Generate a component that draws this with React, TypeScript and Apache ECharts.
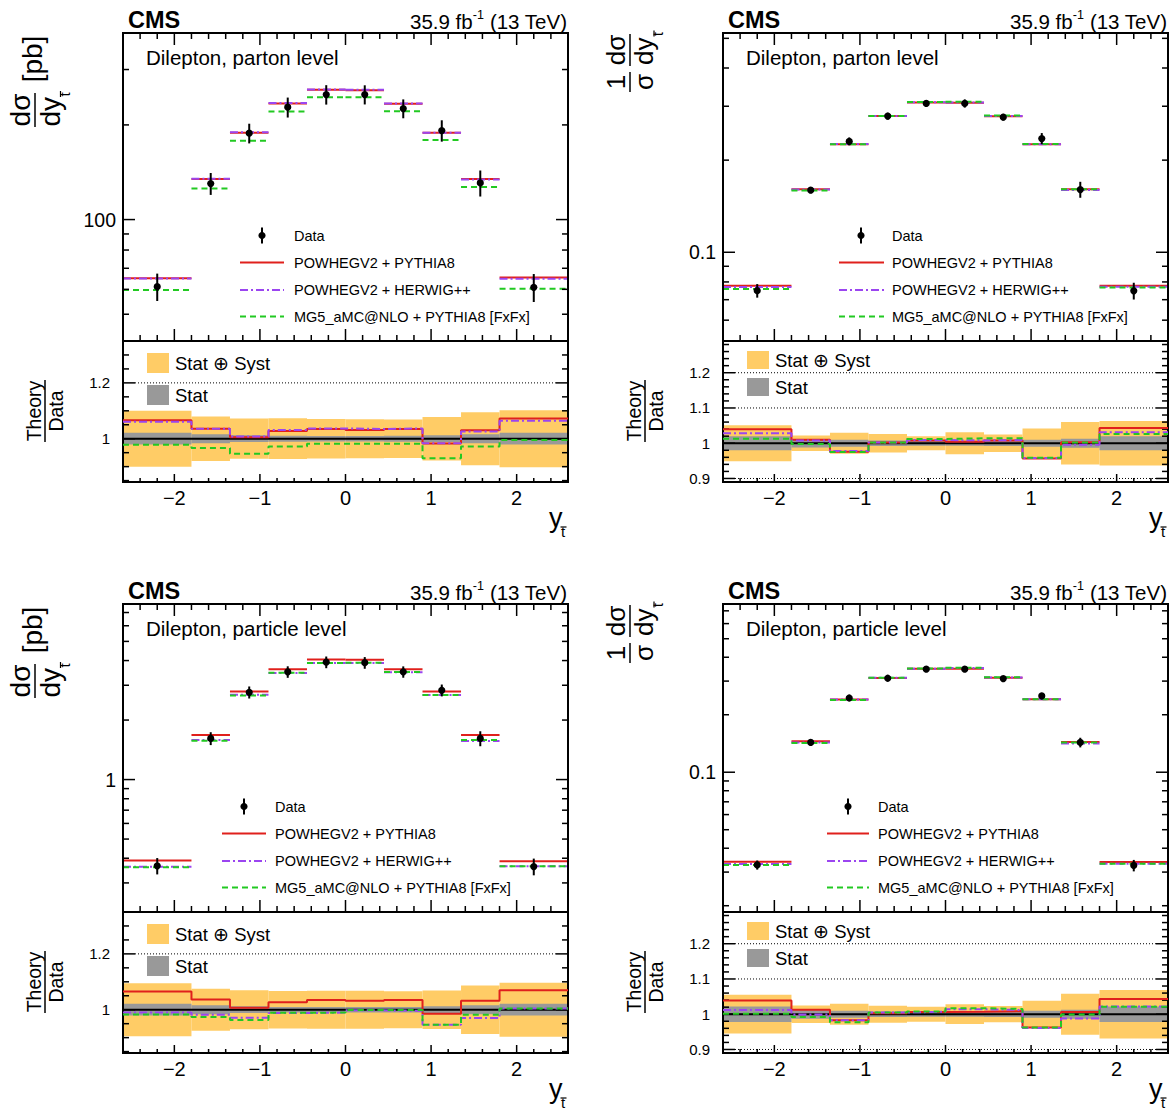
import React, { useEffect, useRef } from "react";
import * as echarts from "echarts";

const FONT = "'Liberation Sans', Arial, Helvetica, sans-serif";

// ---------- shared binning ----------
const binEdges = [-2.6, -1.8, -1.35, -0.9, -0.45, 0, 0.45, 0.9, 1.35, 1.8, 2.6];
const xMajorTicks = [-2, -1, 0, 1, 2];
const xMinorStep = 0.2;

const modelNames = ["POWHEGV2 + PYTHIA8", "POWHEGV2 + HERWIG++", "MG5_aMC@NLO + PYTHIA8 [FxFx]"];
const levelTexts = ["Dilepton, parton level", "Dilepton, particle level"];

// ---------- top-left: absolute, parton level ----------
const tlData = [61.2, 130.2, 188.2, 227.7, 249.8, 249.8, 225.5, 191.9, 130.8, 60.9];
const tlPowPy = [65.1, 134.7, 189.0, 233.9, 258.5, 258.0, 233.5, 189.0, 134.7, 65.4];
const tlPowHw = [64.9, 134.9, 189.7, 234.7, 259.0, 258.5, 233.8, 188.8, 134.2, 64.8];
const tlMg5 = [59.7, 125.5, 178.0, 220.6, 245.0, 245.0, 221.0, 179.0, 127.0, 60.3];
const tlRatioPowPy = [1.066, 1.036, 1.005, 1.028, 1.035, 1.031, 1.035, 0.983, 1.030, 1.072];
const tlRatioPowHw = [1.061, 1.036, 1.008, 1.031, 1.037, 1.035, 1.037, 0.984, 1.026, 1.064];
const tlRatioMg5 = [0.978, 0.967, 0.946, 0.972, 0.982, 0.982, 0.982, 0.930, 0.972, 0.995];
const tlTotUnc = [0.100, 0.080, 0.072, 0.073, 0.071, 0.070, 0.069, 0.078, 0.095, 0.102];
const tlStatUnc = [0.021, 0.016, 0.012, 0.011, 0.010, 0.010, 0.011, 0.012, 0.016, 0.021];

// ---------- top-right: normalized, parton level ----------
const trData = [0.0749, 0.1595, 0.2303, 0.2786, 0.3064, 0.3064, 0.2764, 0.2353, 0.1603, 0.0748];
const trPowPy = [0.0778, 0.1607, 0.2256, 0.2790, 0.3085, 0.3078, 0.2785, 0.2253, 0.1608, 0.0778];
const trPowHw = [0.0770, 0.1604, 0.2260, 0.2790, 0.3090, 0.3085, 0.2790, 0.2255, 0.1597, 0.0771];
const trMg5 = [0.0759, 0.1592, 0.2254, 0.2790, 0.3100, 0.3105, 0.2800, 0.2257, 0.1606, 0.0767];
const trRatioPowPy = [1.040, 1.010, 0.976, 1.002, 1.008, 1.004, 1.008, 0.957, 1.003, 1.043];
const trRatioPowHw = [1.028, 1.008, 0.978, 1.002, 1.009, 1.008, 1.009, 0.958, 0.996, 1.031];
const trRatioMg5 = [1.013, 0.998, 0.975, 1.002, 1.012, 1.014, 1.014, 0.959, 1.002, 1.026];
const trTotUnc = [0.051, 0.022, 0.030, 0.026, 0.020, 0.031, 0.025, 0.042, 0.060, 0.063];
const trStatUnc = [0.020, 0.012, 0.010, 0.008, 0.007, 0.007, 0.008, 0.010, 0.013, 0.020];

// ---------- bottom-left: absolute, particle level ----------
const blData = [0.366, 1.615, 2.764, 3.506, 3.926, 3.900, 3.506, 2.830, 1.615, 0.363];
const blPowPy = [0.3895, 1.679, 2.79, 3.618, 4.05, 4.04, 3.618, 2.79, 1.679, 0.386];
const blPowHw = [0.362, 1.586, 2.684, 3.464, 3.886, 3.892, 3.492, 2.677, 1.567, 0.364];
const blMg5 = [0.360, 1.573, 2.662, 3.468, 3.887, 3.896, 3.502, 2.677, 1.586, 0.364];
const blRatioPowPy = [1.065, 1.037, 1.007, 1.027, 1.035, 1.032, 1.035, 0.986, 1.032, 1.070];
const blRatioPowHw = [0.990, 0.982, 0.971, 0.988, 0.990, 0.998, 0.996, 0.946, 0.970, 1.004];
const blRatioMg5 = [0.983, 0.974, 0.963, 0.989, 0.990, 0.999, 0.999, 0.946, 0.982, 1.004];
const blTotUnc = [0.095, 0.075, 0.070, 0.067, 0.068, 0.068, 0.066, 0.069, 0.087, 0.097];
const blStatUnc = [0.021, 0.016, 0.012, 0.010, 0.010, 0.010, 0.010, 0.012, 0.016, 0.021];

// ---------- bottom-right: normalized, particle level ----------
const brData = [0.0327, 0.1432, 0.2447, 0.3105, 0.3462, 0.3462, 0.3093, 0.2507, 0.1432, 0.0325];
const brPowPy = [0.0340, 0.1451, 0.2405, 0.3114, 0.3483, 0.3486, 0.3121, 0.2412, 0.1441, 0.0339];
const brPowHw = [0.0331, 0.1431, 0.2405, 0.3121, 0.3486, 0.3510, 0.3130, 0.2409, 0.1415, 0.0332];
const brMg5 = [0.0327, 0.1421, 0.2391, 0.3121, 0.3490, 0.3521, 0.3139, 0.2412, 0.1431, 0.0332];
const brRatioPowPy = [1.039, 1.013, 0.983, 1.003, 1.006, 1.007, 1.009, 0.962, 1.006, 1.043];
const brRatioPowHw = [1.012, 0.999, 0.983, 1.005, 1.007, 1.014, 1.012, 0.961, 0.988, 1.022];
const brRatioMg5 = [1.001, 0.992, 0.977, 1.005, 1.008, 1.017, 1.015, 0.962, 0.999, 1.021];
const brTotUnc = [0.055, 0.025, 0.030, 0.024, 0.021, 0.028, 0.023, 0.038, 0.058, 0.069];
const brStatUnc = [0.022, 0.013, 0.010, 0.008, 0.007, 0.007, 0.008, 0.010, 0.013, 0.022];

// ---------- styles ----------
const C_RED = "#e0201c";
const C_PURPLE = "#9b45f0";
const C_GREEN = "#22c922";
const C_ORANGE = "#ffcc66";
const C_GRAY = "#999999";
const modelStyles = [
  { color: C_RED, dash: null as number[] | null },
  { color: C_PURPLE, dash: [8, 3, 2, 3] },
  { color: C_GREEN, dash: [6, 4] },
];

type Panel = {
  col: number;
  row: number;
  level: string;
  normalized: boolean;
  yMin: number;
  yMax: number;
  rMin: number;
  rMax: number;
  rMajor: number;
  rMinor: number;
  rLabels: number[];
  rDotted: number[];
  data: number[];
  tot: number[];
  stat: number[];
  theory: number[][];
  ratios: number[][];
  leg: { mx: number; lx0: number; lx1: number; tx: number };
};

const panels: Panel[] = [
  {
    col: 0, row: 0, level: levelTexts[0], normalized: false,
    yMin: 41.1, yMax: 392, rMin: 0.845, rMax: 1.35, rMajor: 0.2, rMinor: 0.05,
    rLabels: [1, 1.2], rDotted: [1.2],
    data: tlData, tot: tlTotUnc, stat: tlStatUnc,
    theory: [tlPowPy, tlPowHw, tlMg5], ratios: [tlRatioPowPy, tlRatioPowHw, tlRatioMg5],
    leg: { mx: 262, lx0: 240, lx1: 284, tx: 294 },
  },
  {
    col: 1, row: 0, level: levelTexts[0], normalized: true,
    yMin: 0.0513, yMax: 0.5205, rMin: 0.89, rMax: 1.29, rMajor: 0.1, rMinor: 0.02,
    rLabels: [0.9, 1, 1.1, 1.2], rDotted: [0.9, 1.1, 1.2],
    data: trData, tot: trTotUnc, stat: trStatUnc,
    theory: [trPowPy, trPowHw, trMg5], ratios: [trRatioPowPy, trRatioPowHw, trRatioMg5],
    leg: { mx: 261, lx0: 239, lx1: 284, tx: 292 },
  },
  {
    col: 0, row: 1, level: levelTexts[1], normalized: false,
    yMin: 0.2138, yMax: 7.73, rMin: 0.845, rMax: 1.35, rMajor: 0.2, rMinor: 0.05,
    rLabels: [1, 1.2], rDotted: [1.2],
    data: blData, tot: blTotUnc, stat: blStatUnc,
    theory: [blPowPy, blPowHw, blMg5], ratios: [blRatioPowPy, blRatioPowHw, blRatioMg5],
    leg: { mx: 244, lx0: 222, lx1: 266, tx: 275 },
  },
  {
    col: 1, row: 1, level: levelTexts[1], normalized: true,
    yMin: 0.01854, yMax: 0.76, rMin: 0.89, rMax: 1.29, rMajor: 0.1, rMinor: 0.02,
    rLabels: [0.9, 1, 1.1, 1.2], rDotted: [0.9, 1.1, 1.2],
    data: brData, tot: brTotUnc, stat: brStatUnc,
    theory: [brPowPy, brPowHw, brMg5], ratios: [brRatioPowPy, brRatioPowHw, brRatioMg5],
    leg: { mx: 248, lx0: 227, lx1: 269, tx: 278 },
  },
];

// ---------- layout ----------
const COL_DX = 600;
const ROW_DY = 571;
const FRAME_L = 123;
const FRAME_W = 445;
const MAIN_T = 33;
const MAIN_H = 308;
const RATIO_H = 141;

// ---------- tick helpers ----------
type Tick = { v: number; major: boolean };
function linTicks(min: number, max: number, majorStep: number, minorStep: number): Tick[] {
  const out: Tick[] = [];
  const k0 = Math.ceil(min / minorStep - 1e-9);
  const k1 = Math.floor(max / minorStep + 1e-9);
  for (let k = k0; k <= k1; k++) {
    const v = k * minorStep;
    const r = v / majorStep;
    out.push({ v, major: Math.abs(r - Math.round(r)) < 1e-6 });
  }
  return out;
}
function logTicks(min: number, max: number): Tick[] {
  const out: Tick[] = [];
  const d0 = Math.floor(Math.log10(min));
  const d1 = Math.ceil(Math.log10(max));
  for (let d = d0; d <= d1; d++) {
    for (let k = 1; k <= 9; k++) {
      const v = k * Math.pow(10, d);
      if (v >= min && v <= max) out.push({ v, major: k === 1 });
    }
  }
  return out;
}
const xTicks: Tick[] = linTicks(-2.6, 2.6, 1, xMinorStep);

function frameSeries(gi: number, yAny: number, yTicks: Tick[], xLen: [number, number], yLen: [number, number], topTicks: boolean) {
  return {
    type: "custom",
    xAxisIndex: gi,
    yAxisIndex: gi,
    silent: true,
    encode: { x: 0, y: 1 },
    data: [[0, yAny]],
    renderItem: (params: any, api: any) => {
      const cs = params.coordSys;
      const L = cs.x, R = cs.x + cs.width, T = cs.y, B = cs.y + cs.height;
      const ch: any[] = [];
      const tick = (x1: number, y1: number, x2: number, y2: number) =>
        ch.push({ type: "line", shape: { x1, y1, x2, y2 }, style: { stroke: "#000", lineWidth: 1.5 } });
      for (const t of xTicks) {
        const px = api.coord([t.v, yAny])[0];
        if (px <= L + 1 || px >= R - 1) continue;
        const len = t.major ? xLen[0] : xLen[1];
        tick(px, B, px, B - len);
        if (topTicks) tick(px, T, px, T + len);
      }
      for (const t of yTicks) {
        const py = api.coord([0, t.v])[1];
        if (py <= T + 1 || py >= B - 1) continue;
        const len = t.major ? yLen[0] : yLen[1];
        tick(L, py, L + len, py);
        tick(R, py, R - len, py);
      }
      ch.push({ type: "rect", shape: { x: L, y: T, width: R - L, height: B - T }, style: { fill: "none", stroke: "#000", lineWidth: 2 } });
      return { type: "group", children: ch };
    },
  };
}

function buildOption() {
  const grids: any[] = [];
  const xAxes: any[] = [];
  const yAxes: any[] = [];
  const series: any[] = [];
  const graphics: any[] = [];

  const txt = (x: number, y: number, text: string, size: number, align = "left", valign = "middle", weight = "normal", extra: any = {}) => ({
    type: "text",
    x,
    y,
    style: {
      text,
      fill: "#000",
      font: `${weight} ${size}px ${FONT}`,
      fontSize: size,
      fontFamily: FONT,
      fontWeight: weight,
      align,
      textAlign: align,
      verticalAlign: valign,
      textVerticalAlign: valign,
      ...extra,
    },
  });
  const ln = (x1: number, y1: number, x2: number, y2: number, color = "#000", w = 1.5, dash: number[] | null = null) => ({
    type: "line",
    shape: { x1, y1, x2, y2 },
    style: { stroke: color, lineWidth: w, lineDash: dash },
  });

  panels.forEach((p, pi) => {
    const dx = p.col * COL_DX;
    const dy = p.row * ROW_DY;
    const gm = pi * 2;
    const gr = pi * 2 + 1;
    const ratioTop = dy + MAIN_T + MAIN_H;

    grids.push({ left: FRAME_L + dx, top: MAIN_T + dy, width: FRAME_W, height: MAIN_H, show: false, containLabel: false, outerBoundsMode: "none" });
    grids.push({ left: FRAME_L + dx, top: ratioTop, width: FRAME_W, height: RATIO_H, show: false, containLabel: false, outerBoundsMode: "none" });

    xAxes.push({ type: "value", gridIndex: gm, min: -2.6, max: 2.6, axisLine: { show: false }, axisTick: { show: false }, splitLine: { show: false }, axisLabel: { show: false } });
    xAxes.push({
      type: "value", gridIndex: gr, min: -2.6, max: 2.6,
      axisLine: { show: false }, axisTick: { show: false }, splitLine: { show: false },
      axisLabel: {
        show: true, color: "#000", fontSize: 20, fontFamily: FONT, margin: 6,
        formatter: (v: number) => {
          const r = Math.round(v);
          if (Math.abs(v - r) > 1e-6 || !xMajorTicks.includes(r)) return "";
          return r < 0 ? "\u2212" + Math.abs(r) : String(r);
        },
      },
    });
    yAxes.push({
      type: "log", logBase: 10, gridIndex: gm, min: p.yMin, max: p.yMax,
      axisLine: { show: false }, axisTick: { show: false }, splitLine: { show: false }, minorTick: { show: false },
      axisLabel: {
        show: true, color: "#000", fontSize: 19.5, fontFamily: FONT, margin: 7,
        formatter: (v: number) => {
          const l = Math.log10(v);
          const r = Math.round(l);
          if (Math.abs(l - r) > 1e-6) return "";
          return String(Number(Math.pow(10, r).toPrecision(6)));
        },
      },
    });
    yAxes.push({
      type: "value", gridIndex: gr, min: p.rMin, max: p.rMax,
      axisLine: { show: false }, axisTick: { show: false }, splitLine: { show: false },
      axisLabel: {
        show: true, color: "#000", fontSize: 15, fontFamily: FONT, margin: 13,
        formatter: (v: number) => {
          const r = Math.round(v * 100) / 100;
          if (Math.abs(v - r) > 1e-6) return "";
          return p.rLabels.some((l) => Math.abs(l - r) < 1e-6) ? String(r) : "";
        },
      },
    });

    // ---- main: theory segments ----
    p.theory.forEach((vals, mi) => {
      const st = modelStyles[mi];
      series.push({
        type: "custom", name: modelNames[mi], xAxisIndex: gm, yAxisIndex: gm, silent: true,
        encode: { x: [0, 1], y: 2 },
        data: vals.map((v, i) => [binEdges[i], binEdges[i + 1], v]),
        renderItem: (params: any, api: any) => {
          const a = api.coord([api.value(0), api.value(2)]);
          const b = api.coord([api.value(1), api.value(2)]);
          return { type: "line", shape: { x1: a[0], y1: a[1], x2: b[0], y2: b[1] }, style: { stroke: st.color, lineWidth: 2, lineDash: st.dash } };
        },
      });
    });
    // ---- main: data points ----
    series.push({
      type: "custom", name: "Data", xAxisIndex: gm, yAxisIndex: gm, silent: true,
      encode: { x: 0, y: [1, 2, 3] },
      data: p.data.map((v, i) => [(binEdges[i] + binEdges[i + 1]) / 2, v, v * (1 - p.tot[i]), v * (1 + p.tot[i])]),
      renderItem: (params: any, api: any) => {
        const c = api.coord([api.value(0), api.value(1)]);
        const lo = api.coord([api.value(0), api.value(2)]);
        const hi = api.coord([api.value(0), api.value(3)]);
        return {
          type: "group",
          children: [
            { type: "line", shape: { x1: c[0], y1: lo[1], x2: c[0], y2: hi[1] }, style: { stroke: "#000", lineWidth: 2 } },
            { type: "circle", shape: { cx: c[0], cy: c[1], r: 3.6 }, style: { fill: "#000" } },
          ],
        };
      },
    });
    series.push(frameSeries(gm, p.data[0], logTicks(p.yMin, p.yMax), [12, 6], [12, 6], true));

    // ---- ratio: bands ----
    const band = (unc: number[], color: string) => ({
      type: "custom", xAxisIndex: gr, yAxisIndex: gr, silent: true,
      encode: { x: [0, 1], y: [2, 3] },
      data: unc.map((u, i) => [binEdges[i], binEdges[i + 1], 1 - u, 1 + u]),
      renderItem: (params: any, api: any) => {
        const a = api.coord([api.value(0), api.value(3)]);
        const b = api.coord([api.value(1), api.value(2)]);
        return { type: "rect", shape: { x: a[0], y: a[1], width: b[0] - a[0], height: b[1] - a[1] }, style: { fill: color } };
      },
    });
    series.push(band(p.tot, C_ORANGE));
    series.push(band(p.stat, C_GRAY));
    // reference lines
    const refs = [[-2.6, 2.6, 1, 0], ...p.rDotted.map((d) => [-2.6, 2.6, d, 1])];
    series.push({
      type: "custom", xAxisIndex: gr, yAxisIndex: gr, silent: true,
      encode: { x: [0, 1], y: 2 },
      data: refs,
      renderItem: (params: any, api: any) => {
        const a = api.coord([api.value(0), api.value(2)]);
        const b = api.coord([api.value(1), api.value(2)]);
        const dotted = api.value(3) === 1;
        return {
          type: "line",
          shape: { x1: a[0] + (dotted ? 12 : 0), y1: a[1], x2: b[0] - (dotted ? 12 : 0), y2: b[1] },
          style: { stroke: "#000", lineWidth: dotted ? 1 : 2, lineDash: dotted ? [1, 2] : null },
        };
      },
    });
    // theory ratio steps
    p.ratios.forEach((vals, mi) => {
      const st = modelStyles[mi];
      series.push({
        type: "line", name: modelNames[mi], xAxisIndex: gr, yAxisIndex: gr, step: "end", symbol: "none", silent: true,
        data: [...vals.map((v, i) => [binEdges[i], v]), [binEdges[binEdges.length - 1], vals[vals.length - 1]]],
        lineStyle: { color: st.color, width: 2, type: st.dash ? st.dash : "solid" },
      });
    });
    series.push(frameSeries(gr, 1, linTicks(p.rMin, p.rMax, p.rMajor, p.rMinor), [8, 4], [12, 6], false));

    // ---------- texts ----------
    graphics.push(txt(dx + 128, dy + 20, "CMS", 23.5, "left", "middle", "bold"));
    graphics.push({
      type: "text", x: dx + 567, y: dy + 20,
      style: {
        text: "{a|35.9 fb}{s|-1}{a| (13 TeV)}",
        rich: {
          a: { fontSize: 20.5, fontFamily: FONT, fill: "#000", color: "#000", lineHeight: 24, verticalAlign: "bottom" },
          s: { fontSize: 12.5, fontFamily: FONT, fill: "#000", color: "#000", lineHeight: 13, verticalAlign: "top" },
        },
        align: "right", textAlign: "right", verticalAlign: "middle", textVerticalAlign: "middle",
      },
    });
    graphics.push(txt(dx + 146, dy + 57, p.level, 20.5));

    // main legend
    const ly = [235.5, 262.5, 290, 316.5].map((v) => v + dy);
    graphics.push(ln(dx + p.leg.mx, ly[0] - 8, dx + p.leg.mx, ly[0] + 8, "#000", 2));
    graphics.push({ type: "circle", shape: { cx: dx + p.leg.mx, cy: ly[0], r: 3.6 }, style: { fill: "#000" } });
    graphics.push(txt(dx + p.leg.tx, ly[0], "Data", 14.5));
    modelNames.forEach((name, mi) => {
      const st = modelStyles[mi];
      graphics.push(ln(dx + p.leg.lx0, ly[mi + 1], dx + p.leg.lx1, ly[mi + 1], st.color, 2, st.dash));
      graphics.push(txt(dx + p.leg.tx, ly[mi + 1], name, 14.5));
    });

    // ratio legend
    const left = p.col === 0;
    const b1 = left ? [12, 20] : [10, 18];
    const b2 = left ? [44, 20] : [37, 18];
    graphics.push({ type: "rect", shape: { x: dx + 147, y: ratioTop + b1[0], width: 22, height: b1[1] }, style: { fill: C_ORANGE } });
    graphics.push(txt(dx + 175, ratioTop + b1[0] + b1[1] / 2, "Stat \u2295 Syst", 18.5));
    graphics.push({ type: "rect", shape: { x: dx + 147, y: ratioTop + b2[0], width: 22, height: b2[1] }, style: { fill: C_GRAY } });
    graphics.push(txt(dx + 175, ratioTop + b2[0] + b2[1] / 2, "Stat", 18.5));

    // x-axis title y_tbar
    const xtY = ratioTop + RATIO_H;
    graphics.push(txt(dx + 549, xtY + 49, "y", 27, "left", "bottom"));
    graphics.push(txt(dx + 561, xtY + 42, "t", 15, "left", "top"));
    graphics.push(ln(dx + 560.5, xtY + 45, dx + 566.5, xtY + 45, "#000", 1.2));

    // ratio y title: Theory / Data
    graphics.push({
      type: "group", x: dx + 45, y: ratioTop + 101, rotation: Math.PI / 2,
      children: [
        ln(0, 0, 62, 0, "#000", 1.5),
        txt(31, -1, "Theory", 19.5, "center", "bottom"),
        txt(31, 1, "Data", 19.5, "center", "top"),
      ],
    });

    // main y title
    if (!p.normalized) {
      graphics.push({
        type: "group", x: dx + 35, y: dy + 127, rotation: Math.PI / 2,
        children: [
          ln(0, 0, 34, 0, "#000", 1.5),
          txt(17, -1, "d\u03c3", 28, "center", "bottom"),
          txt(0.5, 1, "dy", 28, "left", "top"),
          txt(30.5, 22, "t", 15, "left", "top"),
          ln(30, 25.5, 36, 25.5, "#000", 1.2),
          txt(68, -3, "[pb]", 28, "center", "middle"),
        ],
      });
    } else {
      graphics.push({
        type: "group", x: dx + 30, y: dy + 92, rotation: Math.PI / 2,
        children: [
          ln(0, 0, 20, 0, "#000", 1.5),
          txt(10, -1, "1", 26, "center", "bottom"),
          txt(10, 1, "\u03c3", 26, "center", "top"),
          ln(26, 0, 58, 0, "#000", 1.5),
          txt(42, -1, "d\u03c3", 26, "center", "bottom"),
          txt(27, 1, "dy", 26, "left", "top"),
          txt(56, 21, "t", 14, "left", "top"),
          ln(55.5, 24, 61.5, 24, "#000", 1.2),
        ],
      });
    }
  });

  return {
    animation: false,
    backgroundColor: "#ffffff",
    grid: grids,
    xAxis: xAxes,
    yAxis: yAxes,
    series,
    graphic: { elements: graphics },
  };
}

export default function App() {
  const ref = useRef<HTMLDivElement>(null);
  useEffect(() => {
    if (!ref.current) return;
    const chart = echarts.init(ref.current, undefined, { renderer: "svg" });
    chart.setOption(buildOption() as any);
    return () => chart.dispose();
  }, []);
  return <div ref={ref} style={{ position: "absolute", left: 0, top: 0, width: 1173, height: 1111, background: "#fff" }} />;
}
